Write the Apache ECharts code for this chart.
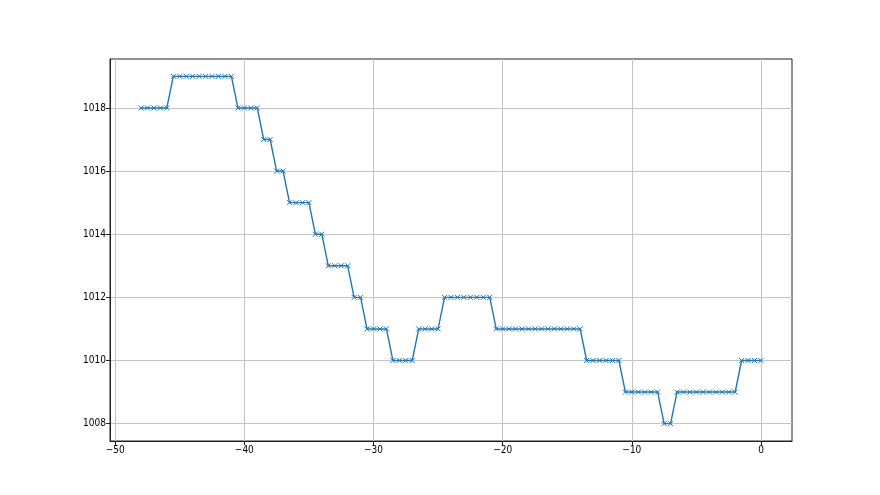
<!DOCTYPE html>
<html>
<head>
<meta charset="utf-8">
<script src="https://cdn.jsdelivr.net/npm/echarts@6/dist/echarts.min.js"></script>
<style>
html,body{margin:0;padding:0;background:#fff;}
#chart{width:880px;height:495px;}
</style>
</head>
<body>
<div id="chart"></div>
<script>
const xValues = [-48,-47.5,-47,-46.5,-46,-45.5,-45,-44.5,-44,-43.5,-43,-42.5,-42,-41.5,-41,-40.5,-40,-39.5,-39,-38.5,-38,-37.5,-37,-36.5,-36,-35.5,-35,-34.5,-34,-33.5,-33,-32.5,-32,-31.5,-31,-30.5,-30,-29.5,-29,-28.5,-28,-27.5,-27,-26.5,-26,-25.5,-25,-24.5,-24,-23.5,-23,-22.5,-22,-21.5,-21,-20.5,-20,-19.5,-19,-18.5,-18,-17.5,-17,-16.5,-16,-15.5,-15,-14.5,-14,-13.5,-13,-12.5,-12,-11.5,-11,-10.5,-10,-9.5,-9,-8.5,-8,-7.5,-7,-6.5,-6,-5.5,-5,-4.5,-4,-3.5,-3,-2.5,-2,-1.5,-1,-0.5,0];
const pressure = [1018,1018,1018,1018,1018,
  1019,1019,1019,1019,1019,1019,1019,1019,1019,1019,
  1018,1018,1018,1018,
  1017,1017,
  1016,1016,
  1015,1015,1015,1015,
  1014,1014,
  1013,1013,1013,1013,
  1012,1012,
  1011,1011,1011,1011,
  1010,1010,1010,1010,
  1011,1011,1011,1011,
  1012,1012,1012,1012,1012,1012,1012,1012,
  1011,1011,1011,1011,1011,1011,1011,1011,1011,1011,1011,1011,1011,1011,
  1010,1010,1010,1010,1010,1010,
  1009,1009,1009,1009,1009,1009,
  1008,1008,
  1009,1009,1009,1009,1009,1009,1009,1009,1009,1009,
  1010,1010,1010,1010];
const xTicks = [-50,-40,-30,-20,-10,0];
const yTicks = [1008,1010,1012,1014,1016,1018];

const data = xValues.map((x,i)=>[x,pressure[i]]);
const chart = echarts.init(document.getElementById('chart'));
const font = 'Liberation Sans Narrow, DejaVu Sans Condensed, DejaVu Sans, sans-serif';
chart.setOption({
  animation:false,
  backgroundColor:'#fff',
  grid:{left:110,right:88,top:59,bottom:54,show:true,borderColor:'#222',borderWidth:1,backgroundColor:'transparent'},
  xAxis:{type:'value',min:-50.4,max:2.4,
    axisLine:{show:true,onZero:false,lineStyle:{color:'#222',width:1}},
    axisTick:{show:true,length:4,lineStyle:{color:'#222'},customValues:xTicks},
    axisLabel:{color:'#000',fontSize:10,fontFamily:font,margin:4,customValues:xTicks,
      formatter:v=>v<0?'\u2212'+Math.abs(v):String(v)},
    splitLine:{show:true,lineStyle:{color:'#c4c4c4',width:1}}},
  yAxis:{type:'value',min:1007.45,max:1019.55,
    axisLine:{show:true,onZero:false,lineStyle:{color:'#222',width:1}},
    axisTick:{show:true,length:4,lineStyle:{color:'#222'},customValues:yTicks},
    axisLabel:{color:'#000',fontSize:10,fontFamily:font,margin:4,customValues:yTicks,
      formatter:v=>String(v)},
    splitLine:{show:true,lineStyle:{color:'#c4c4c4',width:1}}},
  series:[{type:'line',data:data,
    symbol:'path://M0,0L10,10M10,0L0,10',symbolSize:5,showSymbol:true,
    itemStyle:{color:'#1f77b4',borderColor:'#1f77b4',borderWidth:1},
    lineStyle:{color:'#1f77b4',width:1.4}}]
});
</script>
</body>
</html>
